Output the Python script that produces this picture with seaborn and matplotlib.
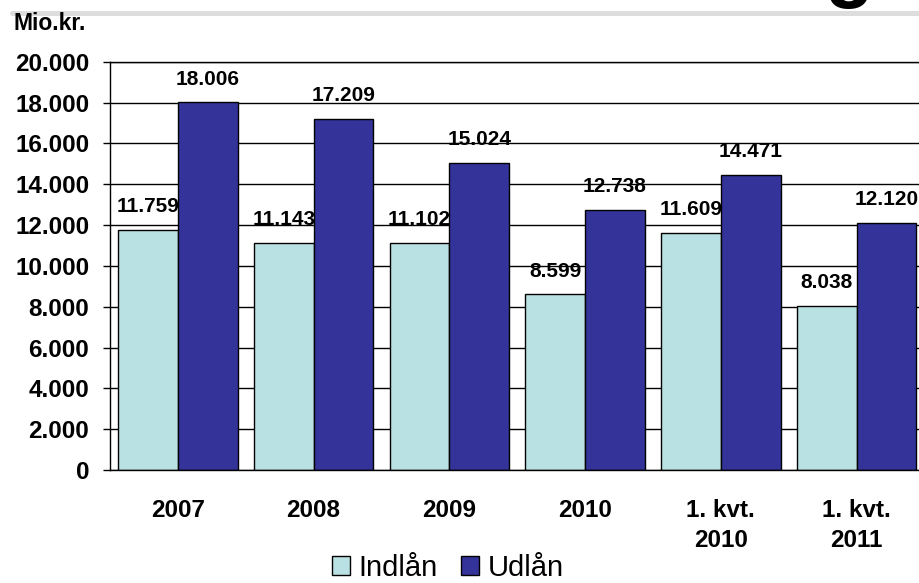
import pandas as pd
import matplotlib.pyplot as plt
import seaborn as sns
from matplotlib.lines import Line2D

# Data (Mio.kr.)
periods = ["2007", "2008", "2009", "2010", "1. kvt.\n2010", "1. kvt.\n2011"]
indlaan = [11759, 11143, 11102, 8599, 11609, 8038]
udlaan = [18006, 17209, 15024, 12738, 14471, 12120]
series_names = ["Indlån", "Udlån"]
colors = ["#B9E0E3", "#333399"]

df = pd.DataFrame({
    "period": periods * 2,
    "value": indlaan + udlaan,
    "series": [series_names[0]] * len(periods) + [series_names[1]] * len(periods),
})

sns.set_style("white")
plt.rcParams["font.family"] = ["Liberation Sans", "DejaVu Sans"]
plt.rcParams["text.color"] = "black"
plt.rcParams["xtick.color"] = "black"
plt.rcParams["ytick.color"] = "black"

fig = plt.figure(figsize=(9.2, 5.83), dpi=100)
ax = fig.add_axes([110 / 920, 1 - 470 / 583, 814.5 / 920, 408.3 / 583])

sns.barplot(data=df, x="period", y="value", hue="series", palette=colors,
            width=0.88, saturation=1, edgecolor="black", linewidth=1, ax=ax)

ax.set_ylim(0, 20000)
ax.set_xlim(-0.5, len(periods) - 0.5)
ax.set_yticks(range(0, 20001, 2000))
ax.set_yticklabels([f"{v:,}".replace(",", ".") for v in range(0, 20001, 2000)],
                   fontsize=17.5, fontweight="bold")
ax.set_xticks(range(len(periods)))
ax.set_xticklabels(periods, fontsize=17.5, fontweight="bold", linespacing=1.4)
ax.set_xticks([i - 0.5 for i in range(len(periods) + 1)], minor=True)
ax.tick_params(axis="x", which="major", length=0, pad=21)
ax.tick_params(axis="x", which="minor", length=5, width=1, direction="out")
ax.tick_params(axis="y", length=5, width=1, direction="out", left=True, pad=10)
ax.set_xlabel("")
ax.set_ylabel("")

ax.set_axisbelow(True)
ax.yaxis.grid(True, color="black", linewidth=1)
for side in ["left", "bottom", "top"]:
    ax.spines[side].set_visible(True)
    ax.spines[side].set_color("black")
    ax.spines[side].set_linewidth(1)
ax.spines["right"].set_visible(False)

for cont in ax.containers:
    labels = [f"{int(b.get_height()):,}".replace(",", ".") for b in cont]
    ax.bar_label(cont, labels=labels, padding=10, fontsize=15, fontweight="bold")

handles, _ = ax.get_legend_handles_labels()
ax.get_legend().remove()
fig.legend(handles, series_names, loc="center", bbox_to_anchor=(448 / 920, 1 - 568 / 583),
           ncol=2, frameon=False, fontsize=21, handlelength=0.6, handleheight=0.6,
           handletextpad=0.3, columnspacing=0.8, borderpad=0)

fig.text(14 / 920, 1 - 30 / 583, "Mio.kr.", fontsize=16.5, fontweight="bold",
         ha="left", va="baseline")

# top banner line and cut-off heading letter
fig.add_artist(Line2D([12 / 920, 1], [1 - 12.5 / 583, 1 - 12.5 / 583],
                      color="#DDDDDD", linewidth=3.6, transform=fig.transFigure))
fig.text(849 / 920, 1 + 8 / 583, "g", fontsize=58, fontweight="bold",
         ha="center", va="baseline", zorder=5)

fig.savefig("out.png", dpi=100)
